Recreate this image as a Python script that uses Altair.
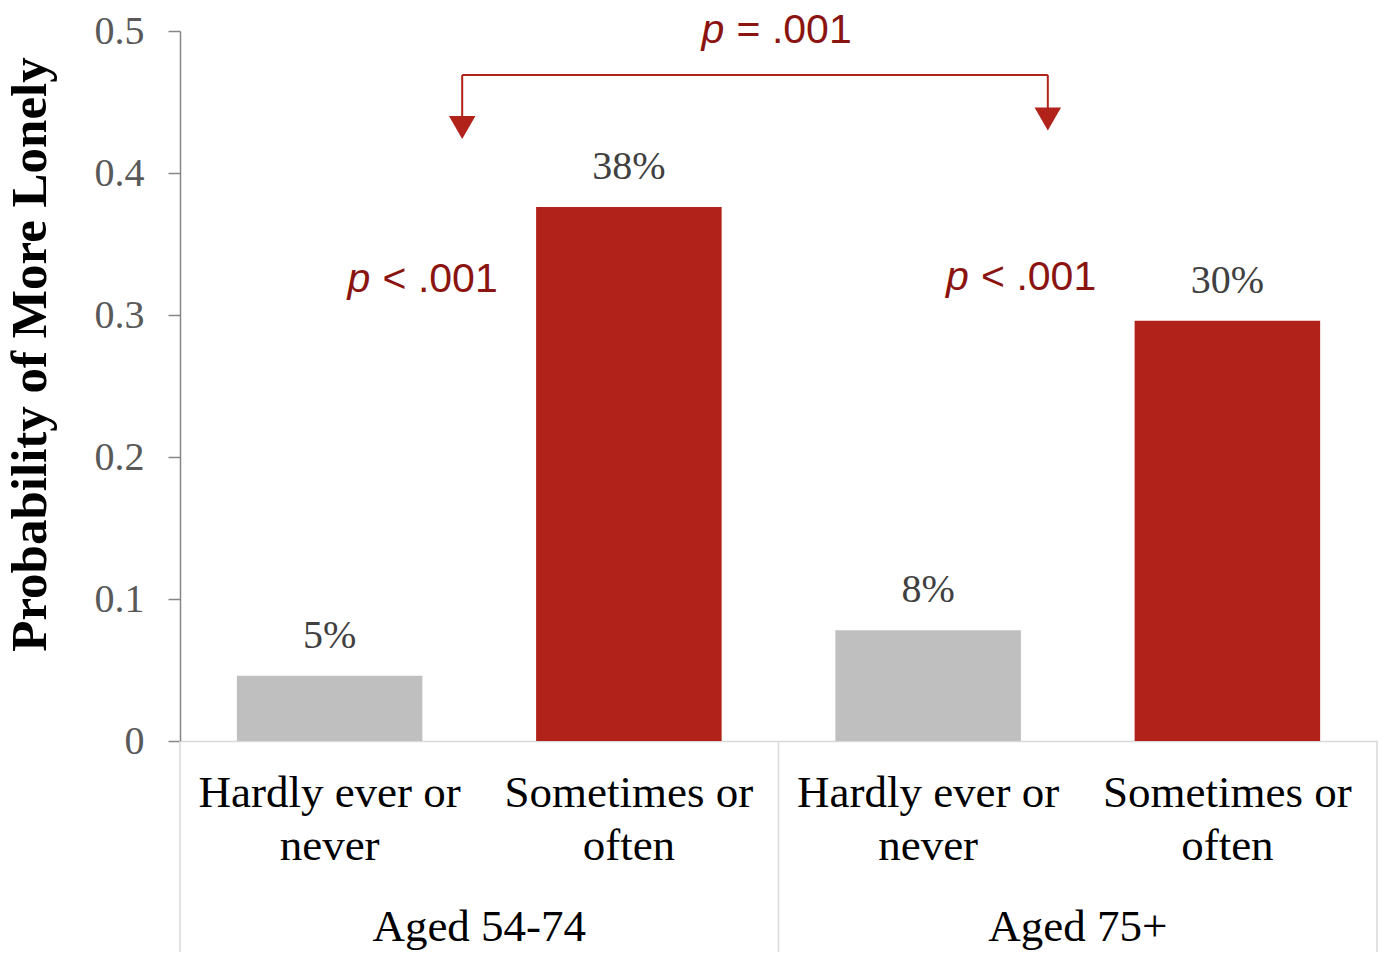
import altair as alt
import pandas as pd

groups = ["Aged 54-74", "Aged 54-74", "Aged 75+", "Aged 75+"]
categories = ["Hardly ever or never", "Sometimes or often", "Hardly ever or never", "Sometimes or often"]
category_lines = ["Hardly ever or\nnever", "Sometimes or\noften", "Hardly ever or\nnever", "Sometimes or\noften"]
values = [0.046, 0.376, 0.078, 0.296]
value_labels = ["5%", "38%", "8%", "30%"]
group_names = ["Aged 54-74", "Aged 75+"]
y_ticks = [0, 0.1, 0.2, 0.3, 0.4, 0.5]

GREY = "#BFBFBF"
RED = "#B0221A"
PRED = "#8B1410"
SERIF = "Liberation Serif"
SANS = "Liberation Sans"

bars = pd.DataFrame({
    "group": groups,
    "category": categories,
    "lines": category_lines,
    "value": values,
    "label": value_labels,
})
bars["pos"] = [i + 0.5 for i in range(len(bars))]

grp = pd.DataFrame({"group": group_names})
grp["pos"] = [i * 2 + 1 for i in range(len(grp))]
seps = pd.DataFrame({"pos": [0, 2, 4]})

xs = alt.Scale(domain=[0, 4], nice=False, zero=False, padding=0)
ys = alt.Scale(domain=[0, 0.5], nice=False, padding=0)

base = alt.Chart(bars)

bar_layer = base.transform_calculate(
    x0="datum.pos - 0.31", x1="datum.pos + 0.31"
).mark_bar(orient="vertical").encode(
    x=alt.X("x0:Q", scale=xs,
            axis=alt.Axis(labels=False, ticks=False, grid=False, title=None,
                          domainColor="#D9D9D9", domainWidth=1.5)),
    x2="x1:Q",
    y=alt.Y("value:Q", scale=ys,
            axis=alt.Axis(values=y_ticks, grid=False, title="Probability of More Lonely",
                          labelExpr="datum.value == 0 ? '0' : format(datum.value, '.1f')",
                          labelFont=SERIF, labelFontSize=40, labelColor="#595959",
                          labelPadding=24, tickSize=12, tickColor="#868686",
                          domainColor="#868686", domainWidth=1.5, tickWidth=1.5,
                          titleFont=SERIF, titleFontSize=51, titleFontWeight="bold",
                          titleColor="#000000", titleAngle=270, titleX=-150, titleY=323,
                          titleAlign="center", titleBaseline="middle")),
    y2=alt.Y2Datum(0),
    color=alt.Color("category:N", scale=alt.Scale(domain=["Hardly ever or never", "Sometimes or often"],
                                                  range=[GREY, RED]), legend=None),
)

val_text = base.mark_text(font=SERIF, fontSize=40, color="#404040",
                          baseline="alphabetic", dy=-28).encode(
    x=alt.X("pos:Q", scale=xs), y=alt.Y("value:Q", scale=ys), text="label:N")

cat_text = base.mark_text(font=SERIF, fontSize=45, color="#000000", lineBreak="\n",
                          baseline="top", lineHeight=53).encode(
    x=alt.X("pos:Q", scale=xs), y=alt.YDatum(-0.021, scale=ys), text="lines:N")

grp_text = alt.Chart(grp).mark_text(font=SERIF, fontSize=45, color="#000000",
                                    baseline="middle").encode(
    x=alt.X("pos:Q", scale=xs), y=alt.YDatum(-0.131, scale=ys), text="group:N")

sep_rules = alt.Chart(seps).mark_rule(color="#D9D9D9", strokeWidth=1.5).encode(
    x=alt.X("pos:Q", scale=xs), y=alt.YDatum(0, scale=ys), y2=alt.Y2Datum(-0.153))

# bracket annotation
br = pd.DataFrame({"xa": [0.943], "xb": [2.9]})
br_h = alt.Chart(br).mark_rule(color=RED, strokeWidth=2).encode(
    x=alt.X("xa:Q", scale=xs), x2="xb:Q", y=alt.YDatum(0.469, scale=ys))
br_v = alt.Chart(pd.DataFrame({"xp": [0.943, 2.9], "y0": [0.469, 0.469], "y1": [0.44, 0.445]})).mark_rule(
    color=RED, strokeWidth=2).encode(
    x=alt.X("xp:Q", scale=xs), y=alt.Y("y0:Q", scale=ys), y2="y1:Q")
br_tri = alt.Chart(pd.DataFrame({"xp": [0.943, 2.9], "yp": [0.432, 0.438]})).mark_point(
    shape="triangle-down", filled=True, color=RED, opacity=1, size=700).encode(
    x=alt.X("xp:Q", scale=xs), y=alt.Y("yp:Q", scale=ys))

pvals = pd.DataFrame({"px": [0.56, 2.56, 1.743], "py": [0.3246, 0.326, 0.500],
                      "rest": ["< .001", "< .001", "= .001"]})
p_it = alt.Chart(pvals).mark_text(font=SANS, fontSize=41, fontStyle="italic", color=PRED,
                                  align="left", baseline="middle").encode(
    x=alt.X("px:Q", scale=xs), y=alt.Y("py:Q", scale=ys), text=alt.value("p"))
p_rest = alt.Chart(pvals).mark_text(font=SANS, fontSize=41, color=PRED,
                                    align="left", baseline="middle", dx=35).encode(
    x=alt.X("px:Q", scale=xs), y=alt.Y("py:Q", scale=ys), text="rest:N")

chart = alt.layer(
    sep_rules, bar_layer, val_text, cat_text, grp_text, br_h, br_v, br_tri, p_it, p_rest
).properties(
    width=1197, height=710,
    autosize=alt.AutoSizeParams(type="none"),
    padding={"left": 172, "top": 23, "right": 1, "bottom": 211},
    background="white",
).configure_view(stroke=None)

chart.save("out.html", embed_options={"renderer": "svg", "actions": False})
